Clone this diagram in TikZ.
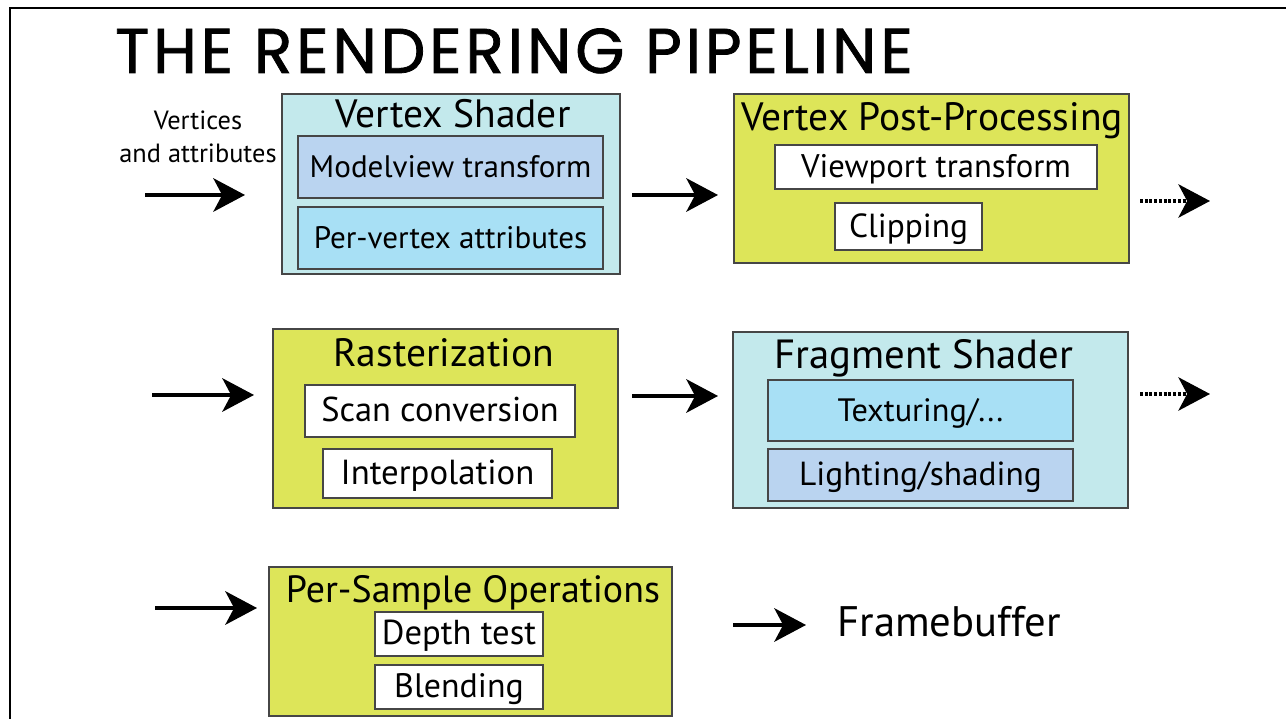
\documentclass[tikz,border=0pt]{standalone}
\usepackage{fontspec}
\setmainfont{PT Sans}
\newfontfamily\headfont{Poppins}[FakeBold=1.2, LetterSpace=6]
\usetikzlibrary{arrows.meta,fit}
\definecolor{stagecyan}{RGB}{195,233,236}
\definecolor{stagelime}{RGB}{221,229,89}
\definecolor{steplilac}{RGB}{186,212,240}
\definecolor{stepsky}{RGB}{168,224,245}
\definecolor{boxline}{RGB}{70,70,70}
\begin{document}
\begin{tikzpicture}[
        x=0.02cm, y=-0.02cm,
        stage/.style={draw=boxline, line width=0.8pt, inner sep=0pt},
        substep/.style n args={2}{draw=boxline, line width=0.8pt, inner sep=0pt,
            label={[anchor=center, inner sep=0pt, font=\fontsize{#2}{20}\selectfont, text height=14.5pt, text depth=2pt]center:#1}},
        heading/.style={anchor=base, inner sep=0pt, font=\fontsize{22.5}{26}\selectfont},
        flow/.style={-{Stealth[length=18pt, width=19pt, inset=5pt]}, line width=2.3pt},
        dotflow/.style={flow, line width=1.8pt, dash pattern=on 1.7pt off 1pt}
    ]
        \useasboundingbox (0,0) rectangle (1286,719);
        \draw[line width=1.6pt] (1286,8) -- (10,8) -- (10,719);
        \node[anchor=base, inner sep=0pt, font=\headfont\fontsize{36}{40}\selectfont] (title) at (514,73) {THE RENDERING PIPELINE};

        % row 1
        \node[stage, fill=stagecyan, fit={(282,94) (620,274)}] (vs) {};
        \node[heading] (vstitle) at (453,128) {Vertex Shader};
        \node[substep={Modelview transform}{17.7}, fill=steplilac, fit={(298,136) (603,198)}] (modelview) {};
        \node[substep={Per-vertex attributes}{17.7}, fill=stepsky, fit={(298,207) (603,269)}] (pervertex) {};

        \node[stage, fill=stagelime, fit={(734,94) (1129,263)}] (vpp) {};
        \node[heading] (vpptitle) at (932,131) {Vertex Post-Processing};
        \node[substep={Viewport transform}{18.6}, fill=white, fit={(775,145) (1097,189)}] (viewport) {};
        \node[substep={Clipping}{19}, fill=white, fit={(835,203) (982,250)}] (clipping) {};

        % row 2
        \node[stage, fill=stagelime, fit={(273,329) (618,508)}] (raster) {};
        \node[heading] (rastertitle) at (444,367) {Rasterization};
        \node[substep={Scan conversion}{19.6}, fill=white, fit={(305,385) (575,437)}] (scan) {};
        \node[substep={Interpolation}{19.8}, fill=white, fit={(323,449) (552,498)}] (interp) {};

        \node[stage, fill=stagecyan, fit={(733,332) (1128,508)}] (fs) {};
        \node[heading, font=\fontsize{23.2}{26}\selectfont] (fstitle) at (924,369) {Fragment Shader};
        \node[substep={Texturing/...}{18.4}, fill=stepsky, fit={(768,380) (1073,441)}] (texturing) {};
        \node[substep={Lighting/shading}{19}, fill=steplilac, fit={(768,449) (1073,501)}] (lighting) {};

        % row 3
        \node[stage, fill=stagelime, fit={(269,567) (672,716)}] (pso) {};
        \node[heading, font=\fontsize{21.6}{26}\selectfont] (psotitle) at (473,603) {Per-Sample Operations};
        \node[substep={Depth test}{19.7}, fill=white, fit={(375,612) (543,656)}] (depth) {};
        \node[substep={Blending}{19.3}, fill=white, fit={(375,665) (543,709)}] (blending) {};

        \node[heading, font=\fontsize{24.3}{28}\selectfont] (framebuffer) at (949,637) {Framebuffer};
        \node[align=center, inner sep=0pt, font=\fontsize{15}{18.7}\selectfont] (vertices) at (198,137) {Vertices\\and attributes};

        % arrow ends
        \coordinate (vsin) at (145,195);  \coordinate (vsinend) at (245,195);
        \coordinate (vsout) at (632,195); \coordinate (vppin) at (718,195);
        \coordinate (vppout) at (1140,201); \coordinate (vppend) at (1210,201);
        \coordinate (rastin) at (152,395); \coordinate (rastinend) at (254,395);
        \coordinate (rastout) at (632,396); \coordinate (fsin) at (718,396);
        \coordinate (fsout) at (1140,394); \coordinate (fsend) at (1210,394);
        \coordinate (psoin) at (155,608); \coordinate (psoinend) at (257,608);
        \coordinate (fbin) at (733,625); \coordinate (fbinend) at (806,625);

        \draw[flow] (vsin) -- (vsinend);
        \draw[flow] (vsout) -- (vppin);
        \draw[dotflow] (vppout) -- (vppend);
        \draw[flow] (rastin) -- (rastinend);
        \draw[flow] (rastout) -- (fsin);
        \draw[dotflow] (fsout) -- (fsend);
        \draw[flow] (psoin) -- (psoinend);
        \draw[flow] (fbin) -- (fbinend);
    \end{tikzpicture}
\end{document}
